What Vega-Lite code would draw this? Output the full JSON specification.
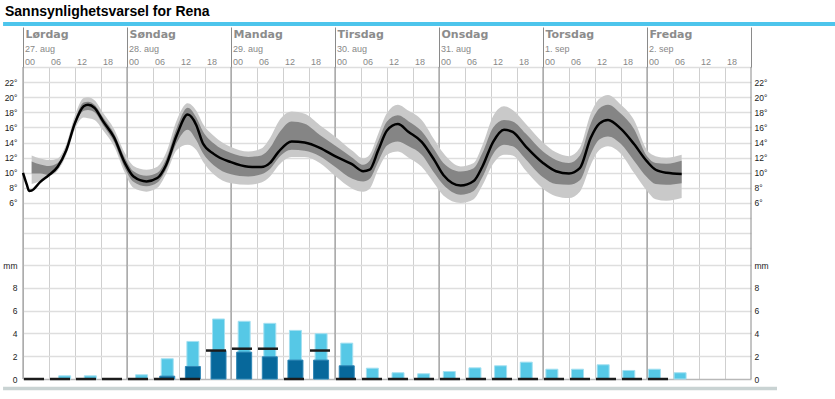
{
  "$schema": "https://vega.github.io/schema/vega-lite/v6.json",
  "width": 728,
  "height": 312,
  "autosize": {"type": "none"},
  "padding": {"left": 23, "top": 67, "right": 84, "bottom": 20},
  "background": "white",
  "title": {"text": "Sannsynlighetsvarsel for Rena", "anchor": "start", "frame": "group", "dx": -18, "offset": 3, "font": "Liberation Sans", "fontSize": 14, "fontWeight": "bold", "color": "#000000"},
  "config": {
    "view": {"stroke": null},
    "axis": {"domain": false, "labelFont": "Liberation Sans", "labelOverlap": false, "labelFlush": false, "labelBound": false, "title": null}
  },
  "datasets": {
    "one": [{"part": "frame"}],
    "days": [{"d": 0}, {"d": 24}, {"d": 48}, {"d": 72}, {"d": 96}, {"d": 120}, {"d": 144}, {"d": 168}],
    "temp": [
      {"h": 0, "t": 10.0},
      {"h": 0.9, "t": 8.4},
      {"h": 1.4, "t": 7.6},
      {"h": 2, "t": 7.65, "ol": 8.5, "il": 9.9, "ih": 11.5, "oh": 12.3},
      {"h": 4, "t": 8.8, "ol": 8.9, "il": 9.9, "ih": 11.1, "oh": 11.9},
      {"h": 6, "t": 9.7, "ol": 9.5, "il": 9.7, "ih": 10.9, "oh": 11.7},
      {"h": 8, "t": 10.8, "ol": 10.3, "il": 10.5, "ih": 11.3, "oh": 11.9},
      {"h": 10, "t": 13.0, "ol": 12.4, "il": 12.7, "ih": 13.4, "oh": 13.8},
      {"h": 12, "t": 16.6, "ol": 15.8, "il": 16.2, "ih": 17.0, "oh": 17.6},
      {"h": 14, "t": 18.8, "ol": 17.3, "il": 18.2, "ih": 19.3, "oh": 19.9},
      {"h": 15, "t": 19.0, "ol": 17.2, "il": 18.3, "ih": 19.4, "oh": 20.0},
      {"h": 16.5, "t": 18.6, "ol": 17.0, "il": 18.0, "ih": 19.0, "oh": 19.6},
      {"h": 18.5, "t": 16.8, "ol": 15.6, "il": 16.3, "ih": 17.3, "oh": 17.9},
      {"h": 21, "t": 14.7, "ol": 13.5, "il": 14.1, "ih": 15.2, "oh": 15.8},
      {"h": 23.5, "t": 11.3, "ol": 10.0, "il": 10.6, "ih": 12.0, "oh": 12.6},
      {"h": 25.5, "t": 9.5, "ol": 8.0, "il": 8.8, "ih": 10.2, "oh": 10.9},
      {"h": 28.5, "t": 8.85, "ol": 7.5, "il": 8.2, "ih": 9.6, "oh": 10.4},
      {"h": 31, "t": 9.3, "ol": 8.0, "il": 8.7, "ih": 10.0, "oh": 10.8},
      {"h": 33, "t": 11.0, "ol": 9.8, "il": 10.4, "ih": 11.8, "oh": 12.6},
      {"h": 35.5, "t": 15.0, "ol": 13.0, "il": 14.0, "ih": 16.0, "oh": 17.0},
      {"h": 38, "t": 17.7, "ol": 13.7, "il": 15.7, "ih": 18.6, "oh": 19.2},
      {"h": 40, "t": 16.3, "ol": 13.0, "il": 14.3, "ih": 17.3, "oh": 18.2},
      {"h": 41.5, "t": 13.9, "ol": 11.5, "il": 12.6, "ih": 15.5, "oh": 16.5},
      {"h": 44, "t": 12.5, "ol": 9.8, "il": 11.0, "ih": 13.9, "oh": 14.9},
      {"h": 48, "t": 11.4, "ol": 8.6, "il": 9.8, "ih": 12.6, "oh": 13.4},
      {"h": 52, "t": 10.8, "ol": 8.4, "il": 9.5, "ih": 12.1, "oh": 12.8},
      {"h": 55, "t": 10.75, "ol": 8.7, "il": 9.8, "ih": 12.3, "oh": 13.2},
      {"h": 57, "t": 11.3, "ol": 9.5, "il": 10.5, "ih": 13.3, "oh": 14.6},
      {"h": 59, "t": 12.8, "ol": 11.0, "il": 12.0, "ih": 15.2, "oh": 16.8},
      {"h": 62, "t": 14.15, "ol": 12.1, "il": 13.05, "ih": 16.8, "oh": 18.1},
      {"h": 65, "t": 14.0, "ol": 12.1, "il": 12.9, "ih": 16.5, "oh": 17.8},
      {"h": 68.5, "t": 13.3, "ol": 11.3, "il": 12.2, "ih": 15.0, "oh": 16.3},
      {"h": 72, "t": 12.2, "ol": 9.6, "il": 10.8, "ih": 13.6, "oh": 14.8},
      {"h": 76, "t": 11.1, "ol": 7.9, "il": 9.2, "ih": 12.0, "oh": 12.9},
      {"h": 78.5, "t": 10.2, "ol": 7.5, "il": 8.85, "ih": 11.06, "oh": 11.9},
      {"h": 80, "t": 10.4, "ol": 7.9, "il": 9.2, "ih": 11.6, "oh": 12.4},
      {"h": 82, "t": 13.0, "ol": 10.5, "il": 11.5, "ih": 14.2, "oh": 15.2},
      {"h": 84, "t": 15.6, "ol": 12.4, "il": 13.6, "ih": 16.8, "oh": 17.9},
      {"h": 86.5, "t": 16.45, "ol": 12.8, "il": 14.15, "ih": 17.6, "oh": 19.0},
      {"h": 89, "t": 15.4, "ol": 12.0, "il": 13.5, "ih": 16.8, "oh": 18.2},
      {"h": 92, "t": 14.1, "ol": 10.8, "il": 12.4, "ih": 15.5, "oh": 17.0},
      {"h": 95, "t": 11.6, "ol": 8.5, "il": 9.9, "ih": 13.0, "oh": 14.3},
      {"h": 97, "t": 9.7, "ol": 7.0, "il": 8.4, "ih": 11.3, "oh": 12.6},
      {"h": 101, "t": 8.3, "ol": 6.0, "il": 7.1, "ih": 10.17, "oh": 10.84},
      {"h": 104, "t": 8.9, "ol": 6.5, "il": 7.6, "ih": 10.6, "oh": 11.3},
      {"h": 106, "t": 10.8, "ol": 8.3, "il": 9.4, "ih": 12.6, "oh": 13.6},
      {"h": 108.5, "t": 14.1, "ol": 11.2, "il": 12.5, "ih": 16.0, "oh": 17.5},
      {"h": 111, "t": 15.7, "ol": 12.4, "il": 13.7, "ih": 17.0, "oh": 18.8},
      {"h": 113, "t": 15.4, "ol": 12.3, "il": 13.5, "ih": 16.8, "oh": 18.3},
      {"h": 116, "t": 13.5, "ol": 10.3, "il": 11.8, "ih": 15.2, "oh": 16.5},
      {"h": 120, "t": 11.3, "ol": 7.9, "il": 9.4, "ih": 12.8, "oh": 14.0},
      {"h": 123, "t": 10.2, "ol": 6.9, "il": 8.5, "ih": 11.7, "oh": 12.7},
      {"h": 126, "t": 9.9, "ol": 6.65, "il": 8.4, "ih": 11.3, "oh": 12.2},
      {"h": 128.5, "t": 10.6, "ol": 7.5, "il": 9.0, "ih": 12.3, "oh": 13.3},
      {"h": 131, "t": 14.6, "ol": 11.0, "il": 12.5, "ih": 16.5, "oh": 17.8},
      {"h": 133, "t": 16.5, "ol": 13.0, "il": 14.4, "ih": 18.5, "oh": 19.8},
      {"h": 135, "t": 17.0, "ol": 13.5, "il": 14.8, "ih": 19.0, "oh": 20.3},
      {"h": 138, "t": 15.8, "ol": 12.5, "il": 13.8, "ih": 17.8, "oh": 19.0},
      {"h": 141, "t": 13.8, "ol": 10.0, "il": 11.6, "ih": 15.8, "oh": 17.0},
      {"h": 144, "t": 11.5, "ol": 7.6, "il": 9.4, "ih": 12.2, "oh": 13.0},
      {"h": 146, "t": 10.4, "ol": 6.5, "il": 8.5, "ih": 11.3, "oh": 12.2},
      {"h": 148.5, "t": 10.0, "ol": 6.3, "il": 8.4, "ih": 11.2, "oh": 12.0},
      {"h": 152, "t": 9.85, "ol": 6.65, "il": 8.6, "ih": 11.6, "oh": 12.4}
    ],
    "precip": [
      {"h": 3, "hi": 0, "lo": 0, "med": 0},
      {"h": 9, "hi": 0.28, "lo": 0, "med": 0},
      {"h": 15, "hi": 0.28, "lo": 0, "med": 0},
      {"h": 21, "hi": 0, "lo": 0, "med": 0},
      {"h": 27, "hi": 0.37, "lo": 0, "med": 0},
      {"h": 33, "hi": 1.78, "lo": 0.25, "med": 0},
      {"h": 39, "hi": 3.3, "lo": 1.1, "med": 0},
      {"h": 45, "hi": 5.27, "lo": 2.5, "med": 2.5},
      {"h": 51, "hi": 5.07, "lo": 2.36, "med": 2.66},
      {"h": 57, "hi": 4.89, "lo": 1.95, "med": 2.66},
      {"h": 63, "hi": 4.27, "lo": 1.66, "med": 0},
      {"h": 69, "hi": 3.98, "lo": 1.66, "med": 2.5},
      {"h": 75, "hi": 3.15, "lo": 1.16, "med": 0},
      {"h": 81, "hi": 0.95, "lo": 0, "med": 0},
      {"h": 87, "hi": 0.55, "lo": 0, "med": 0},
      {"h": 93, "hi": 0.46, "lo": 0, "med": 0},
      {"h": 99, "hi": 0.66, "lo": 0, "med": 0},
      {"h": 105, "hi": 0.98, "lo": 0, "med": 0},
      {"h": 111, "hi": 1.16, "lo": 0, "med": 0},
      {"h": 117, "hi": 1.48, "lo": 0, "med": 0},
      {"h": 123, "hi": 0.86, "lo": 0, "med": 0},
      {"h": 129, "hi": 0.86, "lo": 0, "med": 0},
      {"h": 135, "hi": 1.25, "lo": 0, "med": 0},
      {"h": 141, "hi": 0.75, "lo": 0, "med": 0},
      {"h": 147, "hi": 0.86, "lo": 0, "med": 0},
      {"h": 153, "hi": 0.55, "lo": 0, "med": null}
    ]
  },
  "resolve": {
    "scale": {"x": "independent", "y": "independent"},
    "axis": {"x": "independent", "y": "independent"}
  },
  "layer": [
    {
      "data": {"name": "days"},
      "mark": {"type": "rule", "color": "#8a8a8a", "strokeWidth": 1},
      "encoding": {
        "x": {
          "field": "d", "type": "quantitative",
          "scale": {"domain": [0, 168], "nice": false, "zero": false},
          "axis": {
            "orient": "top", "values": [0, 24, 48, 72, 96, 120, 144, 168],
            "labelExpr": "['Lørdag','Søndag','Mandag','Tirsdag','Onsdag','Torsdag','Fredag',''][datum.value / 24]",
            "ticks": true, "tickSize": 40, "tickColor": "#8a8a8a", "tickWidth": 1, "grid": false,
            "labelAlign": "left", "labelBaseline": "alphabetic", "labelPadding": -10.4, "labelOffset": 2,
            "labelFont": "DejaVu Sans", "labelFontWeight": "bold", "labelFontSize": 11, "labelColor": "#8c8c8c"
          }
        }
      }
    },
    {
      "data": {"name": "temp"},
      "mark": {"type": "area", "interpolate": "monotone", "color": "#c9c9c9"},
      "encoding": {
        "x": {
          "field": "h", "type": "quantitative",
          "scale": {"domain": [0, 168], "nice": false, "zero": false},
          "axis": {
            "orient": "top", "values": [0, 6, 12, 18, 24, 30, 36, 42, 48, 54, 60, 66, 72, 78, 84, 90, 96, 102, 108, 114, 120, 126, 132, 138, 144, 150, 156, 162],
            "labelExpr": "(datum.value % 24 < 10 ? '0' : '') + (datum.value % 24)",
            "ticks": false, "grid": true, "gridColor": "#cfcfcf", "gridWidth": 1,
            "labelAlign": "left", "labelBaseline": "alphabetic", "labelPadding": 2.3, "labelOffset": 1.5,
            "labelFontSize": 9, "labelColor": "#888888"
          }
        },
        "y": {
          "field": "ol", "type": "quantitative",
          "scale": {"domain": [-17.3, 24], "nice": false, "zero": false},
          "axis": {
            "orient": "left", "values": [0, 2, 4, 6, 8, 10, 12, 14, 16, 18, 20, 22, 24],
            "labelExpr": "datum.value >= 6 && datum.value <= 22 ? datum.value + '°' : ''",
            "ticks": false, "grid": true, "gridColor": "#dedede", "gridWidth": 1.5,
            "labelPadding": 6, "labelFontSize": 8.5, "labelColor": "#222222"
          }
        },
        "y2": {"field": "oh"}
      }
    },
    {
      "data": {"name": "temp"},
      "mark": {"type": "area", "interpolate": "monotone", "color": "#858585"},
      "encoding": {
        "x": {"field": "h", "type": "quantitative", "scale": {"domain": [0, 168], "nice": false, "zero": false}, "axis": null},
        "y": {
          "field": "il", "type": "quantitative",
          "scale": {"domain": [-17.3, 24], "nice": false, "zero": false},
          "axis": {
            "orient": "right", "values": [6, 8, 10, 12, 14, 16, 18, 20, 22],
            "labelExpr": "datum.value + '°'",
            "ticks": false, "grid": false,
            "labelPadding": 3, "labelFontSize": 8.5, "labelColor": "#222222"
          }
        },
        "y2": {"field": "ih"}
      }
    },
    {
      "data": {"name": "temp"},
      "mark": {"type": "line", "interpolate": "monotone", "color": "#000000", "strokeWidth": 2.5},
      "encoding": {
        "x": {
          "field": "h", "type": "quantitative",
          "scale": {"domain": [0, 168], "nice": false, "zero": false},
          "axis": {
            "orient": "top", "values": [0, 24, 48, 72, 96, 120, 144],
            "labelExpr": "['27. aug','28. aug','29. aug','30. aug','31. aug','1. sep','2. sep'][datum.value / 24]",
            "ticks": false, "grid": false,
            "labelAlign": "left", "labelBaseline": "alphabetic", "labelPadding": 15.6, "labelOffset": 1.5,
            "labelFontSize": 9, "labelColor": "#888888"
          }
        },
        "y": {"field": "t", "type": "quantitative", "scale": {"domain": [-17.3, 24], "nice": false, "zero": false}, "axis": null}
      }
    },
    {
      "data": {"name": "precip"},
      "transform": [{"filter": "datum.hi > 0"}],
      "mark": {"type": "bar", "width": 12, "color": "#56c8e6", "stroke": "#a4e0f1", "strokeWidth": 1, "xOffset": -1.8},
      "encoding": {
        "x": {"field": "h", "type": "quantitative", "scale": {"domain": [0, 168], "nice": false, "zero": false}, "axis": null},
        "y": {
          "field": "hi", "type": "quantitative",
          "scale": {"domain": [0, 27.4], "nice": false, "zero": false},
          "axis": {
            "orient": "left", "values": [0, 2, 4, 6, 8, 10],
            "labelExpr": "datum.value == 10 ? 'mm' : '' + datum.value",
            "ticks": false, "grid": true, "gridWidth": 1.5,
            "gridColor": {"condition": {"test": "datum.value === 0", "value": "#b8b8b8"}, "value": "#dedede"},
            "labelPadding": 6, "labelFontSize": 8.5, "labelColor": "#222222"
          }
        }
      }
    },
    {
      "data": {"name": "precip"},
      "transform": [{"filter": "datum.lo > 0"}],
      "mark": {"type": "bar", "width": 15, "color": "#07689b", "stroke": "#2f86b5", "strokeWidth": 1, "xOffset": -1.8},
      "encoding": {
        "x": {"field": "h", "type": "quantitative", "scale": {"domain": [0, 168], "nice": false, "zero": false}, "axis": null},
        "y": {
          "field": "lo", "type": "quantitative",
          "scale": {"domain": [0, 27.4], "nice": false, "zero": false},
          "axis": {
            "orient": "right", "values": [0, 2, 4, 6, 8, 10],
            "labelExpr": "datum.value == 10 ? 'mm' : '' + datum.value",
            "ticks": false, "grid": false,
            "labelPadding": 3, "labelFontSize": 8.5, "labelColor": "#222222"
          }
        }
      }
    },
    {
      "data": {"name": "precip"},
      "transform": [{"filter": "isValid(datum.med)"}],
      "mark": {"type": "tick", "orient": "horizontal", "size": 20, "thickness": 2.5, "color": "#1c1c1c", "opacity": 1, "xOffset": -2},
      "encoding": {
        "x": {"field": "h", "type": "quantitative", "scale": {"domain": [0, 168], "nice": false, "zero": false}, "axis": null},
        "y": {"field": "med", "type": "quantitative", "scale": {"domain": [0, 27.4], "nice": false, "zero": false}, "axis": null}
      }
    },
    {
      "data": {"name": "one"},
      "mark": {"type": "rule", "color": "#4dc5ec", "strokeWidth": 4},
      "encoding": {
        "x": {"datum": -4.6, "type": "quantitative", "scale": {"domain": [0, 168], "nice": false, "zero": false}, "axis": null},
        "x2": {"datum": 187.4},
        "y": {"datum": 29.69, "type": "quantitative", "scale": {"domain": [-17.3, 24], "nice": false, "zero": false}, "axis": null}
      }
    },
    {
      "data": {"name": "one"},
      "mark": {"type": "rule", "color": "#c9d3d3", "strokeWidth": 3.5},
      "encoding": {
        "x": {"datum": -4.6, "type": "quantitative", "scale": {"domain": [0, 168], "nice": false, "zero": false}, "axis": null},
        "x2": {"datum": 174.0},
        "y": {"datum": -18.56, "type": "quantitative", "scale": {"domain": [-17.3, 24], "nice": false, "zero": false}, "axis": null}
      }
    }
  ]
}
